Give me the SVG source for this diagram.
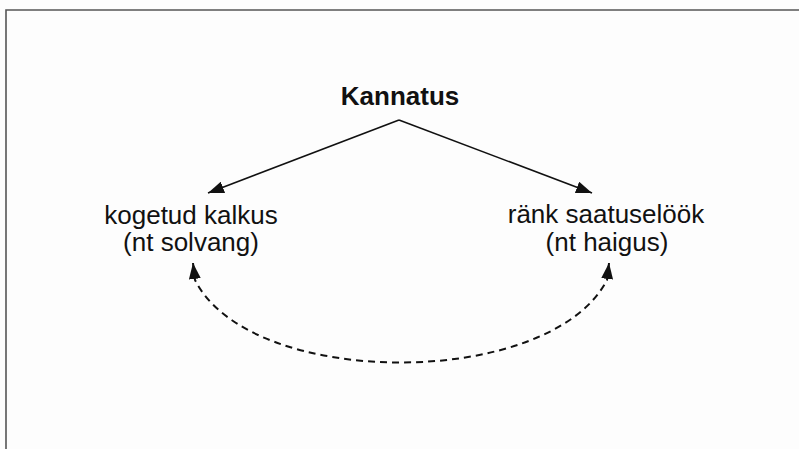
<svg xmlns="http://www.w3.org/2000/svg" width="799" height="449" viewBox="0 0 799 449">
<style>
.lbl{font-family:"Liberation Sans",Arial,sans-serif;font-size:26px;fill:#111;text-anchor:middle}
.title{font-weight:bold}
.conn{fill:none;stroke:#111;stroke-width:1.6}
.dash{stroke-dasharray:7,5;stroke-width:2}
</style>
<defs>
<marker id="ah" viewBox="0 0 16 12" refX="16" refY="6" markerWidth="16" markerHeight="12" markerUnits="userSpaceOnUse" orient="auto-start-reverse">
<path d="M0,0 L16,6 L0,12 z" fill="#111"/>
</marker>
</defs>
<rect x="0" y="0" width="799" height="449" fill="#fdfdfd"/>
<g id="frame">
<path d="M6,449 L6,10 L799,10" fill="none" stroke="#555" stroke-width="1.6"/>
</g>
<g id="node-kannatus">
<text class="lbl title" x="400" y="105">Kannatus</text>
</g>
<g id="node-kalkus">
<text class="lbl" x="191" y="224">kogetud kalkus</text>
<text class="lbl" x="191" y="251">(nt solvang)</text>
</g>
<g id="node-saatus">
<text class="lbl" x="606" y="223">ränk saatuselöök</text>
<text class="lbl" x="607" y="251">(nt haigus)</text>
</g>
<g id="connectors">
<line class="conn" x1="399" y1="120" x2="208" y2="193" marker-end="url(#ah)"/>
<line class="conn" x1="399" y1="120" x2="592" y2="193" marker-end="url(#ah)"/>
<path class="conn dash" d="M193,263 L195,280 C250,390 550,390 607,280 L609,263" marker-start="url(#ah)" marker-end="url(#ah)"/>
</g>
</svg>
